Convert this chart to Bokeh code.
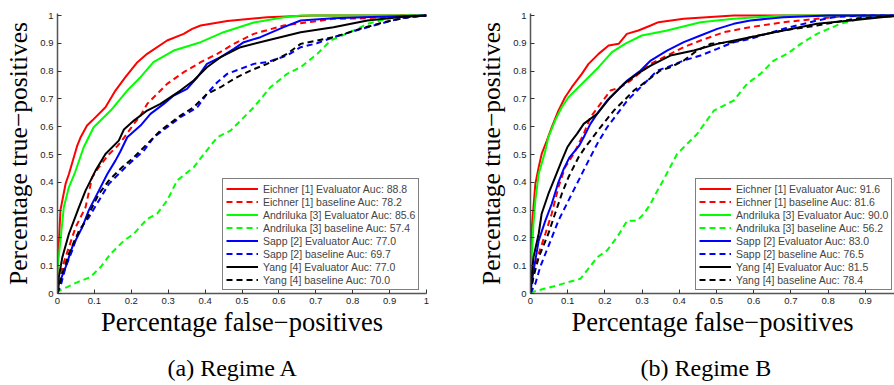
from bokeh.plotting import figure
from bokeh.layouts import row
from bokeh.models import Legend, LegendItem, Title, FixedTicker, Range1d
from bokeh.embed import file_html
from bokeh.resources import INLINE

# ---------------- tick labels ----------------
x_ticks = [0, 0.1, 0.2, 0.3, 0.4, 0.5, 0.6, 0.7, 0.8, 0.9, 1]
x_tick_labels = ["0", "0.1", "0.2", "0.3", "0.4", "0.5", "0.6", "0.7", "0.8", "0.9", "1"]
y_ticks = [0, 0.1, 0.2, 0.3, 0.4, 0.5, 0.6, 0.7, 0.8, 0.9, 1]
y_tick_labels = ["0", "0.1", "0.2", "0.3", "0.4", "0.5", "0.6", "0.7", "0.8", "0.9", "1"]

x_label = "Percentage false\u2212positives"
y_label = "Percentage true\u2212positives"
captions = ["(a) Regime A", "(b) Regime B"]

series_names = ["Eichner [1] Evaluator", "Eichner [1] baseline",
                "Andriluka [3] Evaluator", "Andriluka [3] baseline",
                "Sapp [2] Evaluator", "Sapp [2] baseline",
                "Yang [4] Evaluator", "Yang [4] baseline"]
auc_a = [88.8, 78.2, 85.6, 57.4, 77.0, 69.7, 77.0, 70.0]
auc_b = [91.6, 81.6, 90.0, 56.2, 83.0, 76.5, 81.5, 78.4]

# ---------------- Regime A curves ----------------
a_eichner_eval_x = [0, 0.0, 0.004, 0.008, 0.022, 0.031, 0.053, 0.062, 0.080, 0.094, 0.130, 0.157, 0.184, 0.215, 0.243, 0.297, 0.342, 0.365, 0.388, 0.46, 0.568, 0.69, 1]
a_eichner_eval_y = [0, 0.1, 0.19, 0.30, 0.395, 0.43, 0.53, 0.56, 0.604, 0.622, 0.670, 0.730, 0.778, 0.83, 0.862, 0.91, 0.934, 0.952, 0.964, 0.98, 0.994, 1.0, 1]

a_eichner_base_x = [0, 0.013, 0.031, 0.049, 0.076, 0.094, 0.112, 0.139, 0.162, 0.18, 0.207, 0.225, 0.243, 0.27, 0.297, 0.342, 0.388, 0.433, 0.478, 0.532, 0.613, 0.748, 0.84, 0.93, 1]
a_eichner_base_y = [0, 0.095, 0.167, 0.238, 0.31, 0.418, 0.454, 0.50, 0.53, 0.56, 0.61, 0.64, 0.682, 0.718, 0.754, 0.796, 0.832, 0.862, 0.898, 0.934, 0.964, 0.988, 0.99, 1.0, 1]

a_andriluka_eval_x = [0, 0.0, 0.008, 0.017, 0.031, 0.046, 0.071, 0.098, 0.144, 0.189, 0.225, 0.26, 0.315, 0.388, 0.45, 0.532, 0.61, 0.66, 1]
a_andriluka_eval_y = [0, 0.09, 0.19, 0.31, 0.383, 0.43, 0.526, 0.598, 0.658, 0.73, 0.778, 0.832, 0.874, 0.904, 0.94, 0.975, 0.993, 1.0, 1]

a_andriluka_base_x = [0, 0.004, 0.026, 0.053, 0.089, 0.117, 0.144, 0.18, 0.207, 0.243, 0.27, 0.297, 0.324, 0.369, 0.397, 0.433, 0.469, 0.496, 0.532, 0.577, 0.622, 0.659, 0.704, 0.74, 0.803, 0.84, 0.894, 0.956, 1]
a_andriluka_base_y = [0, 0.01, 0.023, 0.04, 0.059, 0.095, 0.143, 0.19, 0.215, 0.268, 0.287, 0.334, 0.406, 0.454, 0.502, 0.562, 0.586, 0.622, 0.67, 0.742, 0.79, 0.814, 0.862, 0.91, 0.946, 0.97, 0.988, 1.0, 1]

a_sapp_eval_x = [0, 0.004, 0.022, 0.04, 0.067, 0.085, 0.112, 0.135, 0.157, 0.17, 0.189, 0.225, 0.252, 0.288, 0.315, 0.351, 0.379, 0.405, 0.442, 0.478, 0.505, 0.55, 0.613, 0.659, 0.748, 0.85, 1]
a_sapp_eval_y = [0, 0.035, 0.095, 0.167, 0.238, 0.30, 0.37, 0.43, 0.478, 0.51, 0.562, 0.604, 0.646, 0.682, 0.712, 0.736, 0.778, 0.826, 0.85, 0.88, 0.904, 0.922, 0.958, 0.982, 0.99, 0.995, 1]

a_sapp_base_x = [0, 0.01, 0.022, 0.04, 0.058, 0.085, 0.112, 0.139, 0.184, 0.234, 0.261, 0.297, 0.333, 0.379, 0.405, 0.433, 0.46, 0.496, 0.532, 0.568, 0.622, 0.659, 0.703, 0.748, 0.84, 0.93, 1]
a_sapp_base_y = [0, 0.035, 0.095, 0.155, 0.227, 0.274, 0.334, 0.394, 0.454, 0.514, 0.562, 0.598, 0.634, 0.67, 0.718, 0.76, 0.79, 0.808, 0.826, 0.832, 0.856, 0.886, 0.9, 0.922, 0.958, 0.99, 1]

a_yang_eval_x = [0, 0.002, 0.013, 0.031, 0.058, 0.076, 0.103, 0.13, 0.166, 0.18, 0.207, 0.243, 0.279, 0.333, 0.369, 0.405, 0.442, 0.496, 0.568, 0.659, 0.748, 0.84, 0.93, 1]
a_yang_eval_y = [0, 0.047, 0.13, 0.215, 0.31, 0.37, 0.442, 0.502, 0.55, 0.59, 0.622, 0.658, 0.682, 0.73, 0.766, 0.814, 0.85, 0.886, 0.91, 0.94, 0.958, 0.982, 0.995, 1]

a_yang_base_x = [0, 0.013, 0.031, 0.049, 0.076, 0.094, 0.112, 0.139, 0.175, 0.207, 0.243, 0.279, 0.333, 0.369, 0.405, 0.442, 0.478, 0.523, 0.568, 0.622, 0.659, 0.748, 0.82, 0.885, 0.956, 1]
a_yang_base_y = [0, 0.071, 0.143, 0.2, 0.262, 0.31, 0.358, 0.406, 0.454, 0.49, 0.538, 0.586, 0.64, 0.67, 0.718, 0.742, 0.772, 0.802, 0.826, 0.862, 0.898, 0.922, 0.952, 0.976, 0.995, 1]

# ---------------- Regime B curves ----------------
b_eichner_eval_x = [0, 0, 0.002, 0.008, 0.013, 0.022, 0.03, 0.044, 0.057, 0.075, 0.093, 0.111, 0.138, 0.156, 0.183, 0.21, 0.237, 0.259, 0.29, 0.323, 0.344, 0.412, 0.546, 1]
b_eichner_eval_y = [0, 0.15, 0.215, 0.31, 0.394, 0.454, 0.502, 0.55, 0.598, 0.658, 0.706, 0.742, 0.79, 0.826, 0.862, 0.892, 0.898, 0.934, 0.946, 0.964, 0.976, 0.988, 1.0, 1]

b_eichner_base_x = [0, 0.008, 0.022, 0.04, 0.057, 0.075, 0.093, 0.116, 0.143, 0.161, 0.188, 0.215, 0.242, 0.269, 0.296, 0.323, 0.367, 0.412, 0.457, 0.52, 0.591, 0.68, 0.77, 0.86, 1]
b_eichner_base_y = [0, 0.071, 0.143, 0.215, 0.287, 0.382, 0.454, 0.502, 0.574, 0.634, 0.682, 0.73, 0.742, 0.766, 0.796, 0.826, 0.856, 0.886, 0.91, 0.94, 0.958, 0.976, 0.988, 1.0, 1]

b_andriluka_eval_x = [0, 0.002, 0.004, 0.008, 0.013, 0.022, 0.04, 0.048, 0.066, 0.084, 0.102, 0.129, 0.156, 0.183, 0.219, 0.254, 0.299, 0.344, 0.367, 0.457, 0.546, 0.68, 1]
b_andriluka_eval_y = [0, 0.07, 0.155, 0.25, 0.334, 0.43, 0.514, 0.562, 0.622, 0.67, 0.706, 0.742, 0.778, 0.814, 0.868, 0.898, 0.928, 0.94, 0.946, 0.976, 0.988, 1.0, 1]

b_andriluka_base_x = [0, 0.004, 0.036, 0.072, 0.099, 0.134, 0.152, 0.179, 0.206, 0.233, 0.26, 0.287, 0.305, 0.323, 0.341, 0.358, 0.394, 0.412, 0.448, 0.493, 0.546, 0.582, 0.618, 0.654, 0.69, 0.726, 0.77, 0.833, 0.905, 1]
b_andriluka_base_y = [0, 0.005, 0.017, 0.029, 0.04, 0.053, 0.083, 0.13, 0.155, 0.203, 0.262, 0.262, 0.287, 0.323, 0.37, 0.41, 0.502, 0.526, 0.574, 0.658, 0.694, 0.754, 0.79, 0.838, 0.862, 0.898, 0.934, 0.97, 0.994, 1]

b_sapp_eval_x = [0, 0.004, 0.013, 0.022, 0.04, 0.057, 0.075, 0.09, 0.105, 0.13, 0.143, 0.161, 0.179, 0.206, 0.233, 0.26, 0.296, 0.323, 0.367, 0.412, 0.457, 0.502, 0.546, 0.591, 0.68, 0.8, 1]
b_sapp_eval_y = [0, 0.047, 0.119, 0.19, 0.262, 0.322, 0.40, 0.45, 0.49, 0.53, 0.562, 0.61, 0.646, 0.694, 0.73, 0.766, 0.802, 0.838, 0.874, 0.904, 0.928, 0.952, 0.97, 0.982, 0.994, 1.0, 1]

b_sapp_base_x = [0, 0.013, 0.026, 0.04, 0.057, 0.075, 0.102, 0.129, 0.156, 0.18, 0.206, 0.233, 0.26, 0.287, 0.314, 0.341, 0.367, 0.412, 0.457, 0.502, 0.546, 0.591, 0.68, 0.77, 0.815, 0.9, 1]
b_sapp_base_y = [0, 0.035, 0.095, 0.143, 0.2, 0.262, 0.334, 0.406, 0.478, 0.54, 0.598, 0.646, 0.694, 0.73, 0.766, 0.802, 0.814, 0.838, 0.856, 0.88, 0.904, 0.916, 0.952, 0.982, 0.994, 1.0, 1]

b_yang_eval_x = [0, 0.002, 0.008, 0.022, 0.03, 0.048, 0.066, 0.084, 0.099, 0.111, 0.125, 0.143, 0.179, 0.215, 0.251, 0.287, 0.323, 0.376, 0.439, 0.502, 0.591, 0.68, 0.77, 0.86, 0.95, 1]
b_yang_eval_y = [0, 0.047, 0.13, 0.215, 0.287, 0.358, 0.418, 0.478, 0.526, 0.55, 0.574, 0.61, 0.646, 0.706, 0.754, 0.79, 0.82, 0.856, 0.874, 0.898, 0.922, 0.946, 0.97, 0.982, 0.995, 1]

b_yang_base_x = [0, 0.008, 0.022, 0.048, 0.066, 0.084, 0.102, 0.129, 0.147, 0.161, 0.188, 0.224, 0.251, 0.278, 0.314, 0.349, 0.376, 0.412, 0.448, 0.484, 0.546, 0.591, 0.68, 0.77, 0.88, 1]
b_yang_base_y = [0, 0.06, 0.13, 0.215, 0.287, 0.358, 0.418, 0.49, 0.526, 0.55, 0.598, 0.658, 0.694, 0.73, 0.766, 0.802, 0.814, 0.838, 0.874, 0.898, 0.904, 0.922, 0.946, 0.964, 0.99, 1]

series_colors = ["#ff0000", "#ff0000", "#00ff00", "#00ff00", "#0000ff", "#0000ff", "#000000", "#000000"]
series_dashes = ["solid", "6 4", "solid", "6 4", "solid", "6 4", "solid", "6 4"]

curves_a = [(a_eichner_eval_x, a_eichner_eval_y), (a_eichner_base_x, a_eichner_base_y),
            (a_andriluka_eval_x, a_andriluka_eval_y), (a_andriluka_base_x, a_andriluka_base_y),
            (a_sapp_eval_x, a_sapp_eval_y), (a_sapp_base_x, a_sapp_base_y),
            (a_yang_eval_x, a_yang_eval_y), (a_yang_base_x, a_yang_base_y)]
curves_b = [(b_eichner_eval_x, b_eichner_eval_y), (b_eichner_base_x, b_eichner_base_y),
            (b_andriluka_eval_x, b_andriluka_eval_y), (b_andriluka_base_x, b_andriluka_base_y),
            (b_sapp_eval_x, b_sapp_eval_y), (b_sapp_base_x, b_sapp_base_y),
            (b_yang_eval_x, b_yang_eval_y), (b_yang_base_x, b_yang_base_y)]

SERIF = "Liberation Serif"
SANS = "Liberation Sans"


def make_panel(curves, aucs, caption, width, border_left, frame_w, x_end):
    height = 385
    frame_top = 13
    frame_h = 280
    p = figure(width=width, height=height, output_backend="svg", toolbar_location=None,
               x_range=Range1d(0, x_end), y_range=Range1d(0, frame_h / 278.0),
               min_border_left=border_left, min_border_right=width - border_left - frame_w,
               min_border_top=frame_top, min_border_bottom=height - frame_top - frame_h,
               frame_width=frame_w, frame_height=frame_h)
    p.grid.visible = False
    p.outline_line_color = None
    p.background_fill_color = "white"
    p.border_fill_color = "white"

    for ax, ticks, labels in ((p.xaxis[0], x_ticks, x_tick_labels), (p.yaxis[0], y_ticks, y_tick_labels)):
        ax.ticker = FixedTicker(ticks=ticks)
        ax.major_label_overrides = {t: l for t, l in zip(ticks, labels)}
        ax.minor_tick_line_color = None
        ax.major_tick_in = 4
        ax.major_tick_out = 0
        ax.major_tick_line_color = "#333333"
        ax.axis_line_color = "#555555"
        ax.axis_line_width = 1.5
        ax.major_label_text_font = SANS
        ax.major_label_text_font_size = "9.5px"
        ax.major_label_text_color = "#222222"
        ax.major_label_standoff = 4
        ax.axis_label_text_font = SERIF
        ax.axis_label_text_font_style = "normal"
        ax.axis_label_text_color = "black"
    p.xaxis[0].axis_label = x_label
    p.xaxis[0].axis_label_text_font_size = "26.5px"
    p.xaxis[0].axis_label_standoff = 0
    p.yaxis[0].axis_label = y_label
    p.yaxis[0].axis_label_text_font_size = "25.5px"
    p.yaxis[0].axis_label_standoff = 4

    items = []
    for i, (xs, ys) in enumerate(curves):
        r = p.line(xs, ys, line_color=series_colors[i], line_width=2,
                   line_dash=series_dashes[i])
        items.append(LegendItem(label="%s Auc: %.1f" % (series_names[i], aucs[i]), renderers=[r]))

    legend = Legend(items=items, location=(165, 3), label_text_font=SANS,
                    label_text_font_size="10.5px", label_height=13, glyph_height=13,
                    glyph_width=32, label_standoff=5, spacing=0, padding=3, margin=0,
                    border_line_color="black", border_line_width=1.5,
                    background_fill_color="white", background_fill_alpha=1.0)
    p.add_layout(legend)

    p.add_layout(Title(text=caption, align="left", offset=110, standoff=27,
                       text_font=SERIF, text_font_size="24px", text_font_style="normal",
                       text_color="black"), "below")
    return p


pa = make_panel(curves_a, auc_a, captions[0], 455, 57, 369, 1.0)
pb = make_panel(curves_b, auc_b, captions[1], 439, 75, 364, 364 / 372.0)

layout = row(pa, pb, spacing=0)
open("out.html", "w").write(file_html(layout, INLINE))
